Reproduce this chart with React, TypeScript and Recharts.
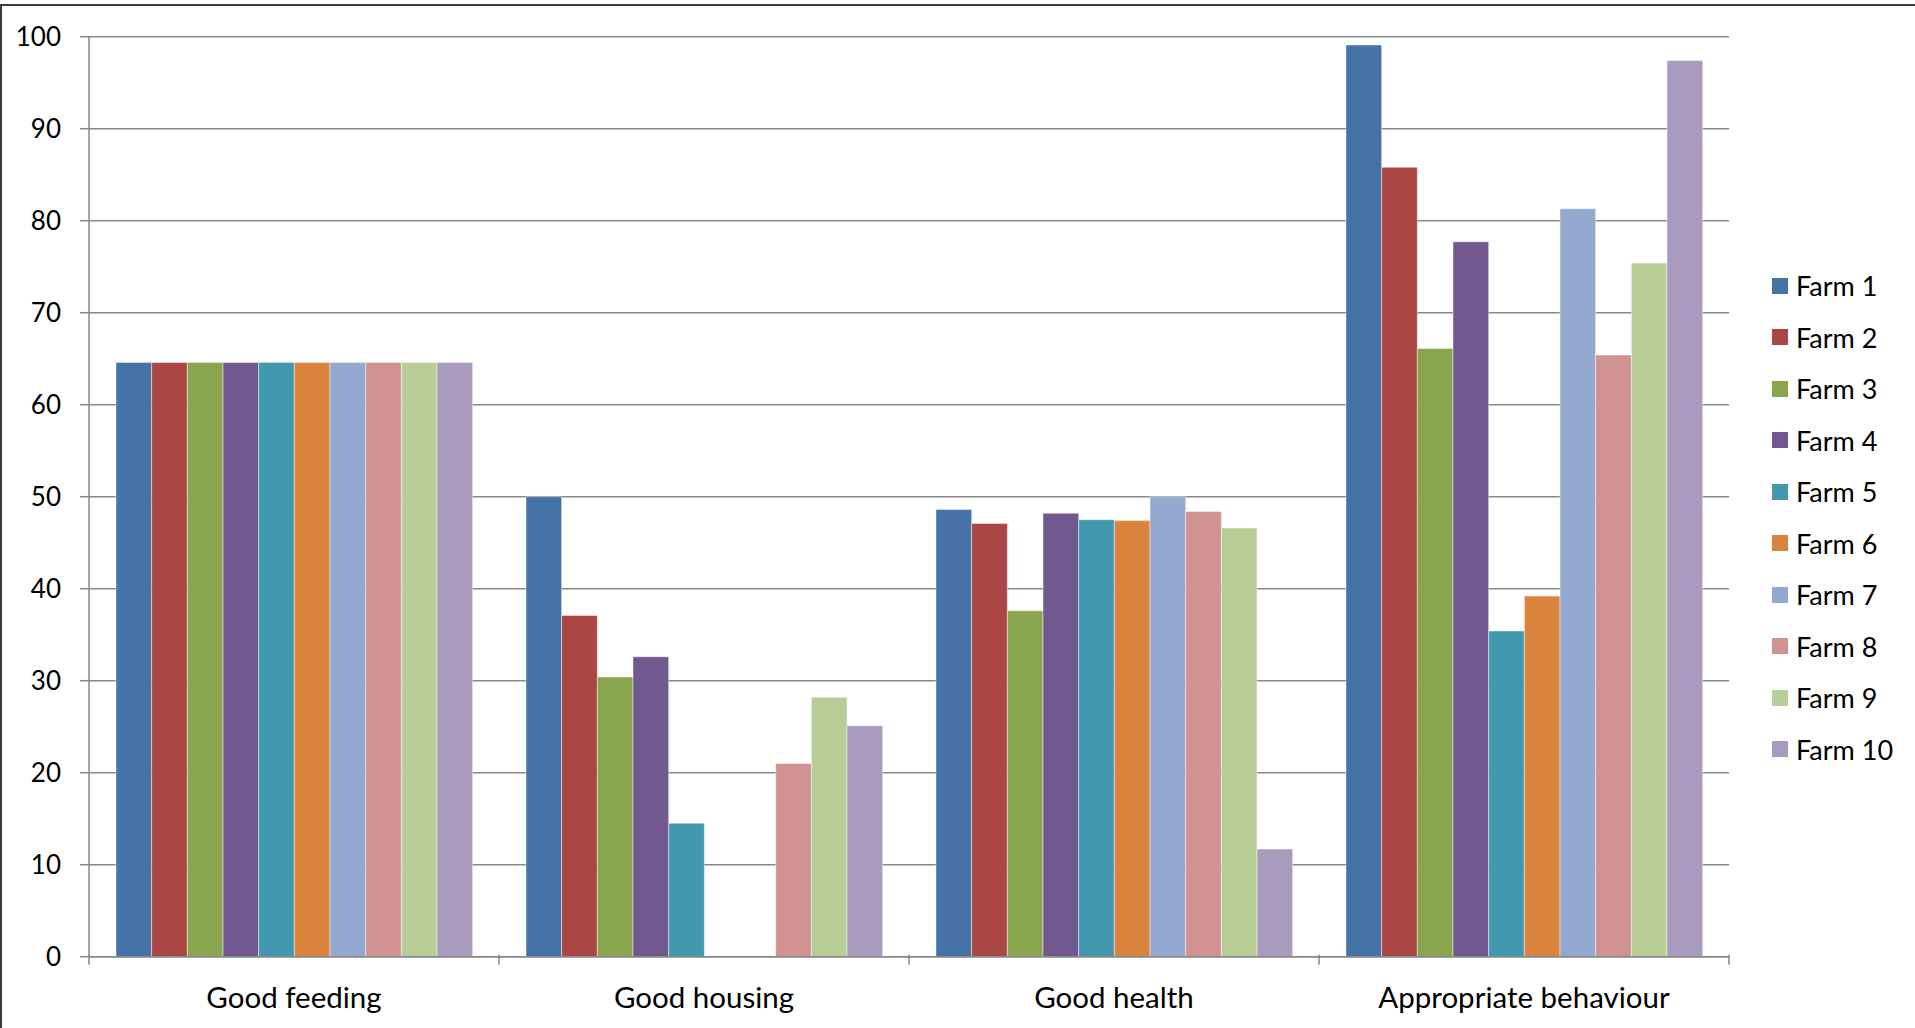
import { BarChart, Bar, XAxis, YAxis, CartesianGrid, Legend } from "recharts";

const categories = ["Good feeding", "Good housing", "Good health", "Appropriate behaviour"];
const farms = ["Farm 1", "Farm 2", "Farm 3", "Farm 4", "Farm 5", "Farm 6", "Farm 7", "Farm 8", "Farm 9", "Farm 10"];

// one array per farm: feeding, housing, health, behaviour
const farm1 = [64.6, 50.0, 48.6, 99.1];
const farm2 = [64.6, 37.1, 47.1, 85.8];
const farm3 = [64.6, 30.4, 37.6, 66.1];
const farm4 = [64.6, 32.6, 48.2, 77.7];
const farm5 = [64.6, 14.5, 47.5, 35.4];
const farm6 = [64.6, -0.2, 47.4, 39.2];
const farm7 = [64.6, -0.2, 50.0, 81.3];
const farm8 = [64.6, 21.0, 48.4, 65.4];
const farm9 = [64.6, 28.2, 46.6, 75.4];
const farm10 = [64.6, 25.1, 11.7, 97.4];

const yTicks = [0, 10, 20, 30, 40, 50, 60, 70, 80, 90, 100];
const colors = ["#4572A7", "#AA4643", "#89A54E", "#71588F", "#4198AF", "#DB843D", "#93A9CF", "#D19392", "#B9CD96", "#A99BBD"];

const series = [farm1, farm2, farm3, farm4, farm5, farm6, farm7, farm8, farm9, farm10];
const data = categories.map((c, i) => {
  const row: any = { name: c };
  farms.forEach((f, j) => { row[f] = series[j][i]; });
  return row;
});

const font = "Lato, 'Open Sans', sans-serif";
const axisGray = "#878787";

function CategoryTick(props: any) {
  const { x, y, payload, index } = props;
  const half = payload.offset || 0;
  const top = y - 10;
  return (
    <g>
      <line x1={x - half} x2={x - half} y1={top} y2={top + 10} stroke={axisGray} strokeWidth={1.5} />
      {index === categories.length - 1 && (
        <line x1={x + half} x2={x + half} y1={top} y2={top + 10} stroke={axisGray} strokeWidth={1.5} />
      )}
      <text x={x} y={y + 22} dy="0.71em" textAnchor="middle" fill="#000" fontSize={29.5} fontFamily={font}>
        {payload.value}
      </text>
    </g>
  );
}

// legend drawn in series order (recharts would sort it by name)
function FarmLegend() {
  return (
    <div style={{ fontFamily: font, fontSize: 27, color: "#000" }}>
      {farms.map((f, i) => (
        <div key={f} style={{ height: 51.5, display: "flex", alignItems: "center" }}>
          <span style={{ width: 16, height: 16, background: colors[i], display: "inline-block", marginRight: 8 }} />
          <span>{f}</span>
        </div>
      ))}
    </div>
  );
}

export default function App() {
  return (
    <div style={{ position: "absolute", left: 0, top: 0, width: 1915, height: 1028, background: "#fff", overflow: "hidden" }}>
      <div style={{ position: "absolute", left: 0, top: 4, width: 1915, height: 1030, borderTop: "2px solid #3a3a3a", borderLeft: "2px solid #3a3a3a", boxSizing: "border-box" }} />
      <BarChart
        width={1915}
        height={1028}
        data={data}
        margin={{ top: 36.7, right: 186, left: 0, bottom: 11.3 }}
        barSize={35.67}
        barGap={0}
      >
        <CartesianGrid vertical={false} stroke={axisGray} strokeWidth={1.5} />
        <XAxis
          dataKey="name"
          height={60}
          axisLine={{ stroke: axisGray, strokeWidth: 1.5 }}
          tickLine={false}
          tick={<CategoryTick />}
          interval={0}
        />
        <YAxis
          width={89}
          domain={[0, 100]}
          ticks={yTicks}
          allowDataOverflow
          interval={0}
          tickSize={9}
          tickMargin={19}
          axisLine={{ stroke: axisGray, strokeWidth: 1.5 }}
          tickLine={{ stroke: axisGray, strokeWidth: 1.5 }}
          tick={{ fill: "#000", fontSize: 26, fontFamily: font }}
        />
        <Legend
          layout="vertical"
          align="center"
          verticalAlign="middle"
          content={<FarmLegend />}
          wrapperStyle={{ left: 1772, top: 260, width: 140 }}
        />
        {farms.map((f, i) => (
          <Bar
            key={f}
            dataKey={f}
            fill={colors[i]}
            stroke="#ffffff"
            strokeOpacity={0.45}
            strokeWidth={1}
            isAnimationActive={false}
          />
        ))}
      </BarChart>
    </div>
  );
}
